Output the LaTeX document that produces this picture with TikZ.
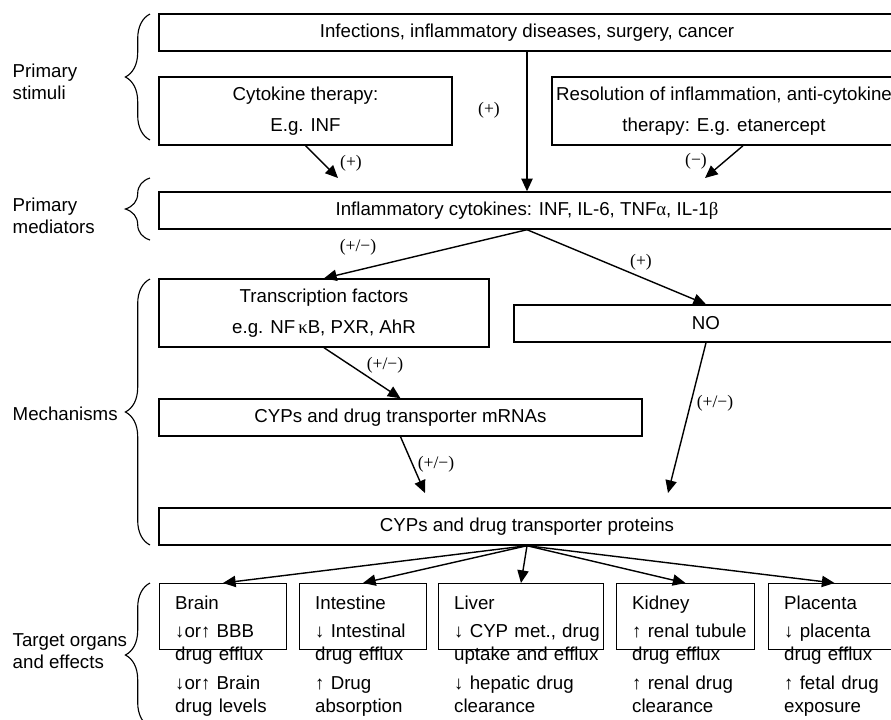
\documentclass[tikz,border=0pt]{standalone}
\usepackage{fontspec}
\setmainfont{Liberation Sans}
\newfontfamily\signfont{Liberation Serif}
\usetikzlibrary{arrows.meta,decorations.pathreplacing}

\newcommand{\arrdown}{{\signfont ↓}}
\newcommand{\arrup}{{\signfont ↑}}

\begin{document}
\begin{tikzpicture}
    [x=0.025cm, y=-0.025cm, line width=1pt,
     >={Triangle[length=9pt,width=8pt]},
     box/.style={draw, inner sep=0pt, align=center, font=\fontsize{13.3}{15.6}\selectfont},
     organ/.style={draw, anchor=north west, inner xsep=11pt, inner ysep=8.5pt, text width=#1,
       align=left, text depth=20pt, font=\fontsize{13.3}{16.3}\selectfont,
       execute at begin node={\hyphenpenalty=10000\relax}},
     side/.style={anchor=west, align=left, inner sep=0pt, font=\fontsize{13.3}{15.6}\selectfont},
     sign/.style={inner sep=0pt, font=\signfont\fontsize{12.5}{14}\selectfont},
     curly/.style={decorate, decoration={brace, amplitude=17.5pt}, line width=0.8pt}]

    \useasboundingbox (0,0) rectangle (891,719);
    \clip (0,0) rectangle (891,719);

    % primary stimuli:
    \node (stim) at (527, 32.5) [box, minimum width=18.4cm, minimum height=0.925cm]
      {Infections, inflammatory diseases, surgery, cancer};
    \node (therapy) at (305.5, 111) [box, minimum width=7.325cm, minimum height=1.7cm]
      {Cytokine therapy:\\[6pt]E.g. INF};
    \node (resol) at (724, 111) [box, minimum width=8.6cm, minimum height=1.7cm]
      {Resolution of inflammation, anti-cytokine\\[6pt]therapy: E.g. etanercept};

    % primary mediators:
    \node (cytok) at (527, 210.5) [box, minimum width=18.4cm, minimum height=0.925cm]
      {Inflammatory cytokines: INF, IL-6, TNF{\signfont α}, IL-1{\signfont β}};

    % mechanisms:
    \node (tf) at (324, 313) [box, minimum width=8.25cm, minimum height=1.7cm]
      {Transcription factors\\[6pt]e.g. NF\,{\signfont κ}B, PXR, AhR};
    \node (no) at (706, 323.5) [box, minimum width=9.6cm, minimum height=0.925cm] {NO};
    \node (mrna) at (400.5, 417.5) [box, minimum width=12.075cm, minimum height=0.925cm]
      {CYPs and drug transporter mRNAs};
    \node (prot) at (527, 526.5) [box, minimum width=18.4cm, minimum height=0.925cm]
      {CYPs and drug transporter proteins};

    % target organs:
    \node (brain) at (159, 583) [organ=68pt]
      {Brain\\[4pt]\arrdown or\arrup~BBB\\drug~efflux\\[4pt]\arrdown or\arrup~Brain\\drug~levels};
    \node (gut) at (299, 583) [organ=68pt]
      {Intestine\\[4pt]\arrdown~Intestinal\\drug~efflux\\[4pt]\arrup~Drug\\absorption};
    \node (liver) at (438, 583) [organ=95pt]
      {Liver\\[4pt]\arrdown~CYP~met.,~drug\\\mbox{uptake and efflux}\\[4pt]\arrdown~hepatic~drug\\clearance};
    \node (kidney) at (616, 583) [organ=75.8pt]
      {Kidney\\[4pt]\mbox{\arrup~renal tubule}\\drug~efflux\\[4pt]\arrup~renal~drug\\clearance};
    \node (placenta) at (768, 583) [organ=71.6pt]
      {Placenta\\[4pt]\arrdown~placenta\\drug~efflux\\[4pt]\arrup~fetal~drug\\exposure};

    % left labels and braces:
    \node (lstim) at (12, 82) [side] {Primary\\stimuli};
    \node (lmed) at (12, 216) [side] {Primary\\mediators};
    \node (lmech) at (12, 414) [side] {Mechanisms};
    \node (lorg) at (12, 651) [side] {Target organs\\and effects};
    \draw [curly] (150, 140) -- (150, 14);
    \draw [curly] (150, 240) -- (150, 178);
    \draw [curly] (150, 545) -- (150, 279);
    \draw [curly] (150, 727) -- (150, 583);

    % free arrow ends:
    \coordinate (t1) at (338, 178);
    \coordinate (t2) at (705, 178);
    \coordinate (t3) at (425, 493);
    \coordinate (t4) at (668, 493);

    % signs:
    \node (s1) at (351, 163) [sign] {(+)};
    \node (s2) at (489, 110) [sign] {(+)};
    \node (s3) at (696, 161) [sign] {(−)};
    \node (s4) at (358, 247) [sign] {(+/−)};
    \node (s5) at (641, 262) [sign] {(+)};
    \node (s6) at (385, 365) [sign] {(+/−)};
    \node (s7) at (436, 464) [sign] {(+/−)};
    \node (s8) at (715, 403) [sign] {(+/−)};

    % connect nodes:
    \draw [->] (stim) to (cytok);
    \draw [->] (therapy.south) to (t1);
    \draw [->] ([xshift=0.475cm]resol.south) to (t2);
    \draw [->] (cytok.south) to (tf.north);
    \draw [->] (cytok.south) to (no.north);
    \draw [->] (tf.south) to (mrna.north);
    \draw [->] (mrna.south) to (t3);
    \draw [->] (no.south) to (t4);
    \draw [->] (prot.south) to (brain.north);
    \draw [->] (prot.south) to (gut.north);
    \draw [->] (prot.south) to (liver.north);
    \draw [->] (prot.south) to (kidney.north);
    \draw [->] (prot.south) to (placenta.north);

  \end{tikzpicture}
\end{document}
